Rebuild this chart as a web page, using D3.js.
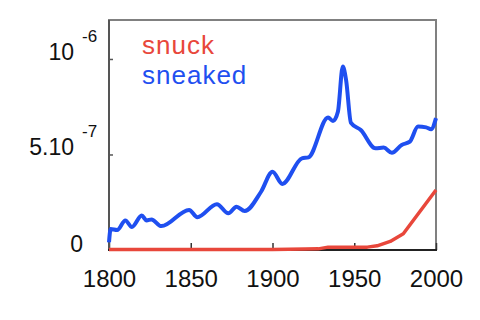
<!DOCTYPE html>
<html>
<head>
<meta charset="utf-8">
<script src="https://cdn.jsdelivr.net/npm/d3@7"></script>
<style>
  body { margin: 0; background: #fff; }
  svg { display: block; font-family: "Liberation Sans", Arial, sans-serif; }
</style>
</head>
<body>
<script>
// sneaked (blue) and snuck (red), relative frequency
const sneakedYears = [1800, 1801, 1805, 1810, 1814, 1820, 1823, 1826, 1832, 1849, 1854, 1866, 1873, 1878, 1883, 1893, 1900, 1906, 1918, 1922, 1934, 1937, 1940, 1943, 1945, 1948, 1954, 1963, 1968, 1973, 1979, 1984, 1989, 1994, 1997, 2000];
const sneakedValues = [0.4e-7, 1.1e-7, 1.05e-7, 1.55e-7, 1.2e-7, 1.8e-7, 1.55e-7, 1.6e-7, 1.25e-7, 2.1e-7, 1.72e-7, 2.4e-7, 1.92e-7, 2.27e-7, 2.04e-7, 3.05e-7, 4.1e-7, 3.46e-7, 4.8e-7, 4.85e-7, 6.94e-7, 6.75e-7, 7.24e-7, 9.6e-7, 8.9e-7, 6.65e-7, 6.28e-7, 5.32e-7, 5.36e-7, 5.09e-7, 5.5e-7, 5.67e-7, 6.46e-7, 6.42e-7, 6.32e-7, 6.9e-7];

const snuckYears = [1800, 1900, 1920, 1928, 1934, 1958, 1964, 1972, 1980, 2000];
const snuckValues = [0.02e-7, 0.03e-7, 0.05e-7, 0.06e-7, 0.15e-7, 0.15e-7, 0.22e-7, 0.45e-7, 0.85e-7, 3.14e-7];

const xTickYears = [1800, 1850, 1900, 1950, 2000];
const yTickValues = [0, 5e-7, 1e-6];
const yTickBase = ["0", "5.10", "10"];
const yTickExp = ["", "-7", "-6"];

const seriesNames = ["snuck", "sneaked"];
const seriesColors = ["#e8473b", "#1f4ff0"];

const w = 480, h = 320;
const pl = 109, pr = 436, pt = 20, pb = 250;

const x = d3.scaleLinear().domain([1800, 2000]).range([pl, pr]);
const y = d3.scaleLinear().domain([0, 1.204e-6]).range([pb, pt]);

const svg = d3.select("body").append("svg")
  .attr("width", w)
  .attr("height", h);

// frame
svg.append("rect")
  .attr("x", pl).attr("y", pt)
  .attr("width", pr - pl).attr("height", pb - pt)
  .attr("fill", "none")
  .attr("stroke", "#808080")
  .attr("stroke-width", 2);

// inward ticks
svg.append("g")
  .attr("transform", `translate(${pl},0)`)
  .call(d3.axisLeft(y).tickValues([5e-7, 1e-6]).tickSize(-4).tickFormat(""))
  .call(g => g.select(".domain").remove())
  .call(g => g.selectAll("line").attr("stroke", "#555").attr("stroke-width", 1.5));

svg.append("g")
  .attr("transform", `translate(0,${pb})`)
  .call(d3.axisBottom(x).tickValues(xTickYears).tickSize(-7).tickPadding(20).tickFormat(d3.format("d")))
  .call(g => g.select(".domain").remove())
  .call(g => g.selectAll("line").attr("stroke", "#333").attr("stroke-width", 1.5))
  .call(g => g.selectAll("text")
    .attr("font-size", 24)
    .attr("font-family", "Liberation Sans, Arial, sans-serif")
    .attr("fill", "#111"));

// left / bottom axis lines darker
svg.append("line")
  .attr("x1", pl).attr("x2", pl).attr("y1", pt).attr("y2", pb)
  .attr("stroke", "#555").attr("stroke-width", 2);
svg.append("line")
  .attr("x1", pl - 1).attr("x2", pr + 1).attr("y1", pb).attr("y2", pb)
  .attr("stroke", "#222").attr("stroke-width", 2);

// y labels with exponents
yTickValues.forEach((v, i) => {
  const yy = y(v);
  if (yTickExp[i]) {
    svg.append("text")
      .attr("x", 74).attr("y", yy + 1)
      .attr("text-anchor", "end")
      .attr("font-size", 23).attr("fill", "#111")
      .text(yTickBase[i]);
    svg.append("text")
      .attr("x", 82).attr("y", yy - 17)
      .attr("font-size", 17).attr("fill", "#111")
      .text(yTickExp[i]);
  } else {
    svg.append("text")
      .attr("x", 83).attr("y", yy + 2)
      .attr("text-anchor", "end")
      .attr("font-size", 23).attr("fill", "#111")
      .text(yTickBase[i]);
  }
});

const line = d3.line()
  .x(d => x(d[0]))
  .y(d => y(d[1]))
  .curve(d3.curveMonotoneX);

svg.append("path")
  .datum(d3.zip(sneakedYears, sneakedValues))
  .attr("d", line)
  .attr("fill", "none")
  .attr("stroke", seriesColors[1])
  .attr("stroke-width", 4)
  .attr("stroke-linejoin", "round");

svg.append("path")
  .datum(d3.zip(snuckYears, snuckValues))
  .attr("d", line.curve(d3.curveLinear))
  .attr("fill", "none")
  .attr("stroke", seriesColors[0])
  .attr("stroke-width", 3.5)
  .attr("stroke-linejoin", "round");

// legend
seriesNames.forEach((name, i) => {
  svg.append("text")
    .attr("x", 142).attr("y", 54 + i * 30)
    .attr("font-size", 26)
    .attr("letter-spacing", 1)
    .attr("fill", seriesColors[i])
    .text(name);
});
</script>
</body>
</html>
